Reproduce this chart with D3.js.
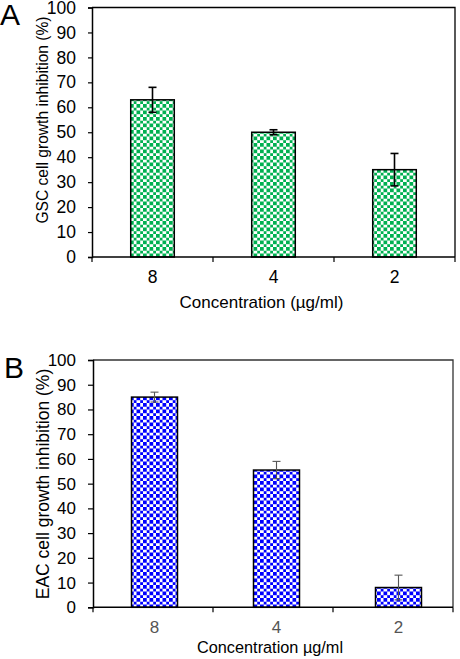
<!DOCTYPE html>
<html>
<head>
    <script src="https://d3js.org/d3.v7.min.js"></script>
    <style>
        body { margin: 0; background: #fff; }
        svg { display: block; font-family: Arial, "Liberation Sans", sans-serif; }
    </style>
</head>
<body>
    <div id="chart"></div>
    <script>
        // data
        const concentrations = ["8", "4", "2"];
        const gscValues = [63, 50, 35];
        const gscErrors = [5, 1, 6.5];
        const eacValues = [85, 55.5, 8];
        const eacErrors = [2, 3.5, 5];
        const yTicks = [0, 10, 20, 30, 40, 50, 60, 70, 80, 90, 100];

        const svg = d3.select("#chart")
            .append("svg")
            .attr("width", 460)
            .attr("height", 659);

        // checkerboard fills
        const defs = svg.append("defs");
        function checker(id, color) {
            const s = 3.25;
            const p = defs.append("pattern")
                .attr("id", id)
                .attr("patternUnits", "userSpaceOnUse")
                .attr("width", s * 2)
                .attr("height", s * 2);
            p.append("rect").attr("width", s * 2).attr("height", s * 2).attr("fill", "#fff");
            p.append("rect").attr("width", s).attr("height", s).attr("fill", color)
                .attr("shape-rendering", "crispEdges");
            p.append("rect").attr("x", s).attr("y", s).attr("width", s).attr("height", s).attr("fill", color)
                .attr("shape-rendering", "crispEdges");
        }
        checker("greenCheck", "#00b050");
        checker("blueCheck", "#0000ff");

        function panel(cfg) {
            const g = svg.append("g");
            const [x0, x1] = cfg.xRange;
            const [yb, yt] = cfg.yRange;

            const y = d3.scaleLinear().domain([0, 100]).range([yb, yt]);
            // boundaries for category ticks
            const xTick = d3.scaleBand().domain(cfg.cats).range([x0, x1]);
            // bar positions
            const x = d3.scaleBand().domain(cfg.cats).range([x0, x1])
                .paddingInner(cfg.pi).paddingOuter(cfg.po).align(cfg.align);

            // bars
            g.selectAll("rect.bar")
                .data(cfg.values)
                .enter()
                .append("rect")
                .attr("class", "bar")
                .attr("x", (d, i) => x(cfg.cats[i]))
                .attr("y", d => y(d))
                .attr("width", x.bandwidth())
                .attr("height", d => y(0) - y(d))
                .attr("fill", `url(#${cfg.fill})`)
                .attr("stroke", "#000")
                .attr("stroke-width", 1.5);

            // error bars
            const err = g.selectAll("g.err")
                .data(cfg.values)
                .enter()
                .append("g")
                .attr("stroke", cfg.errColor)
                .attr("stroke-width", cfg.errWidth);
            const cx = (i) => x(cfg.cats[i]) + x.bandwidth() / 2;
            err.append("line")
                .attr("x1", (d, i) => cx(i)).attr("x2", (d, i) => cx(i))
                .attr("y1", (d, i) => y(d + cfg.errors[i]))
                .attr("y2", (d, i) => y(d - cfg.errors[i]));
            err.append("line")
                .attr("x1", (d, i) => cx(i) - 4).attr("x2", (d, i) => cx(i) + 4)
                .attr("y1", (d, i) => y(d + cfg.errors[i]))
                .attr("y2", (d, i) => y(d + cfg.errors[i]));
            err.append("line")
                .attr("x1", (d, i) => cx(i) - 4).attr("x2", (d, i) => cx(i) + 4)
                .attr("y1", (d, i) => y(d - cfg.errors[i]))
                .attr("y2", (d, i) => y(d - cfg.errors[i]));

            // plot frame (top and right)
            g.append("path")
                .attr("d", `M${x0},${yt}H${x1}V${yb}`)
                .attr("fill", "none")
                .attr("stroke", cfg.frameColor)
                .attr("stroke-width", 1.3);

            // y axis
            const yAxis = g.append("g")
                .attr("transform", `translate(${x0},0)`)
                .call(d3.axisLeft(y).tickValues(yTicks).tickSize(cfg.tickLen).tickPadding(cfg.tickPad));
            yAxis.select(".domain").attr("stroke", "#000").attr("stroke-width", 1.5);
            yAxis.selectAll(".tick line").attr("stroke", "#000").attr("stroke-width", 1.2);
            yAxis.selectAll("text")
                .attr("font-size", cfg.tickFont)
                .attr("font-family", "Arial, 'Liberation Sans', sans-serif")
                .attr("fill", "#000");

            // x axis: ticks on category boundaries
            const bounds = cfg.cats.map(c => xTick(c)).concat([x1]);
            g.append("line")
                .attr("x1", x0).attr("x2", x1)
                .attr("y1", yb).attr("y2", yb)
                .attr("stroke", "#000").attr("stroke-width", 1.5);
            g.selectAll("line.xt")
                .data(bounds)
                .enter()
                .append("line")
                .attr("x1", d => d).attr("x2", d => d)
                .attr("y1", yb).attr("y2", yb + 5)
                .attr("stroke", "#000").attr("stroke-width", 1.2);
            g.selectAll("text.xl")
                .data(cfg.cats)
                .enter()
                .append("text")
                .attr("x", d => x(d) + x.bandwidth() / 2)
                .attr("y", yb + cfg.xLabelOff)
                .attr("text-anchor", "middle")
                .attr("font-size", cfg.tickFont)
                .attr("fill", cfg.xTickColor)
                .text(d => d);

            // titles
            g.append("text")
                .attr("x", (x0 + x1) / 2 + cfg.xTitleShift)
                .attr("y", cfg.xTitleY)
                .attr("text-anchor", "middle")
                .attr("font-size", cfg.xTitleFont)
                .text(cfg.xTitle);
            g.append("text")
                .attr("transform", `translate(${cfg.yTitlePos[0]},${cfg.yTitlePos[1]}) rotate(-90)`)
                .attr("text-anchor", "middle")
                .attr("font-size", cfg.yTitleFont)
                .text(cfg.yTitle);
            g.append("text")
                .attr("x", cfg.letterPos[0])
                .attr("y", cfg.letterPos[1])
                .attr("font-size", 30)
                .text(cfg.letter);
        }

        panel({
            letter: "A", letterPos: [0, 25],
            cats: concentrations, values: gscValues, errors: gscErrors,
            xRange: [92, 455], yRange: [257, 7.5],
            pi: 0.64, po: 0.32, align: 0.5,
            fill: "greenCheck", errColor: "#000", errWidth: 1.6,
            frameColor: "#000",
            tickLen: 4, tickPad: 12, tickFont: 17.5,
            xTickColor: "#000", xLabelOff: 26,
            xTitle: "Concentration (\u00b5g/ml)", xTitleY: 308, xTitleFont: 17, xTitleShift: -12,
            yTitle: "GSC cell growth inhibition (%)", yTitlePos: [48, 120], yTitleFont: 15.6
        });

        panel({
            letter: "B", letterPos: [4, 378],
            cats: concentrations, values: eacValues, errors: eacErrors,
            xRange: [93, 453], yRange: [607.3, 360],
            pi: 0.623, po: 0.287, align: 0.55,
            fill: "blueCheck", errColor: "#555", errWidth: 1.1,
            frameColor: "#333",
            tickLen: 5, tickPad: 12, tickFont: 17,
            xTickColor: "#555", xLabelOff: 26,
            xTitle: "Concentration \u00b5g/ml", xTitleY: 653, xTitleFont: 16.3, xTitleShift: -3,
            yTitle: "EAC cell growth inhibition (%)", yTitlePos: [49, 484], yTitleFont: 17.5
        });
    </script>
</body>
</html>
